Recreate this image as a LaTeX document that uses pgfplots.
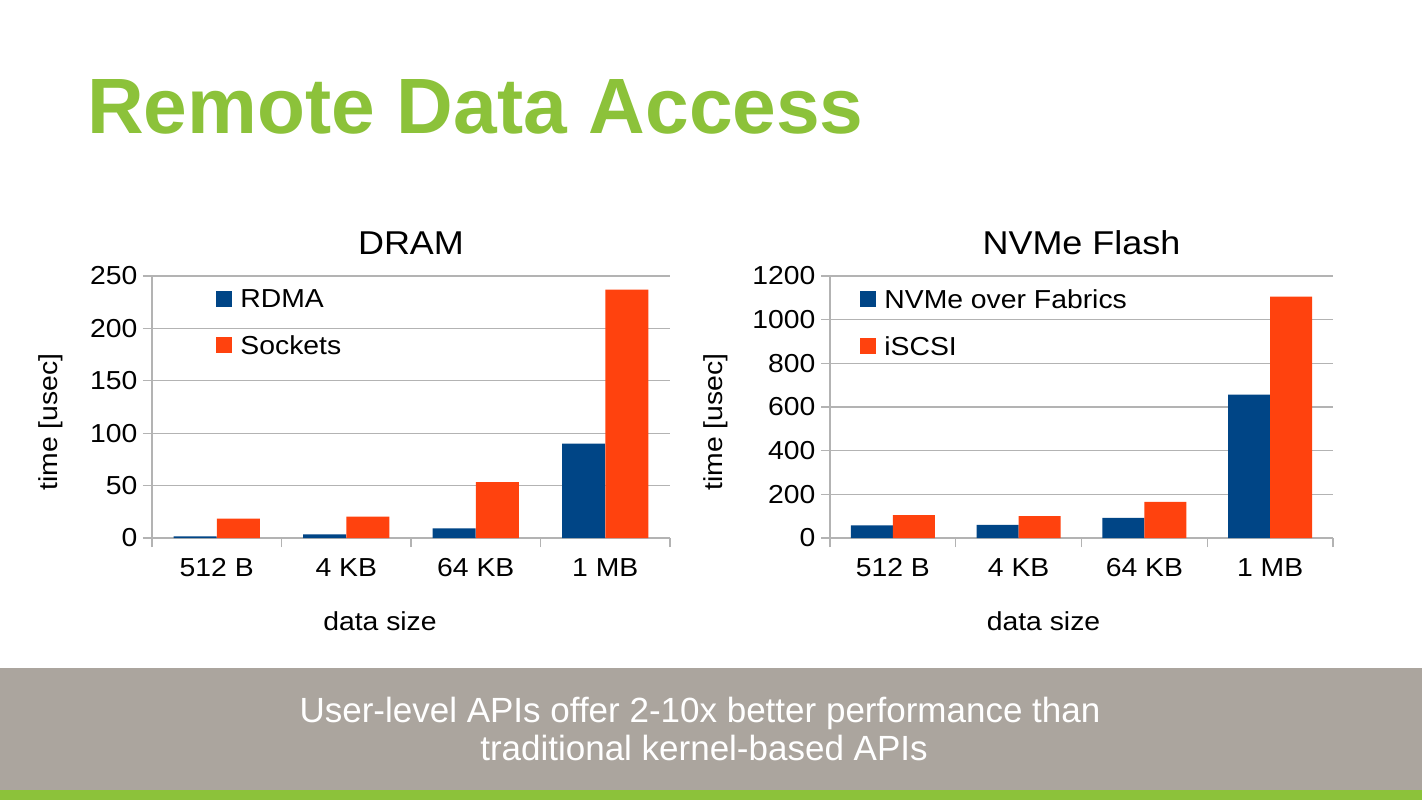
\documentclass[border=0pt]{standalone}
\usepackage{fontspec}
\setmainfont{Liberation Sans}
\newfontfamily\chartfont[FakeStretch=1.09]{Liberation Sans}
\usepackage{pgfplots}
\pgfplotsset{compat=1.18}

\definecolor{rdblue}{HTML}{004586}
\definecolor{rdorange}{HTML}{FF420E}
\definecolor{gridgray}{HTML}{B3B3B3}
\definecolor{titlegreen}{HTML}{8CC23A}
\definecolor{bannergray}{HTML}{ABA59E}

\newcommand{\px}[1]{\fontsize{#1}{#1}\selectfont}

% one style for both charts
\pgfplotsset{
  slidechart/.style={
    scale only axis,
    height=262pt,
    xmin=-0.5, xmax=3.5, ymin=0,
    xtick={0,1,2,3},
    xticklabels={512 B,4 KB,64 KB,1 MB},
    minor xtick={-0.5,0.5,1.5,2.5,3.5},
    major x tick style={draw=none},
    minor tick length=9pt,
    major tick length=9pt,
    tick align=outside,
    axis x line*=bottom,
    axis y line*=left,
    axis line style={gridgray, line width=1.2pt, -},
    tick style={gridgray, line width=1.2pt},
    ymajorgrids,
    grid style={gridgray, line width=1.2pt},
    tick label style={font=\chartfont\px{26}, black},
    /pgf/number format/assume math mode=true,
    /pgf/number format/1000 sep={},
    yticklabel style={xshift=-2pt},
    xticklabel style={yshift=-8pt},
    title style={font=\chartfont\px{33}, at={(0.5,1)}, anchor=base, yshift=16pt},
    xlabel style={font=\chartfont\px{26}, at={(0.5,0)}, anchor=base, yshift=-92pt},
    ylabel style={font=\chartfont\px{26}, at={(0,0.5)}, anchor=center},
    legend style={draw=none, fill=none, font=\chartfont\px{26}, anchor=north west,
      row sep=22pt, inner sep=0pt},
    legend cell align=left,
  },
  sq/.style={ybar, bar width=0.333, draw=none, fill=#1,
    legend image code/.code={\fill[##1] (0pt,-7pt) rectangle (16pt,9pt);
      \path (22pt,0pt);}},
}

\begin{document}
\begin{tikzpicture}
\fill[white] (0pt,0pt) rectangle (1422pt,-800pt);

% slide title
\node[anchor=base west, inner sep=0pt, text=titlegreen, font=\px{78.5}\bfseries]
  at (87pt,-133pt) {Remote Data Access};

% DRAM
\begin{axis}[slidechart,
    at={(152pt,-538pt)}, anchor=south west,
    width=518pt,
    ymax=250, ytick={0,50,...,250},
    title={DRAM},
    xlabel={data size}, xlabel style={xshift=-31pt},
    ylabel={time [usec]}, ylabel style={yshift=101pt, xshift=-15pt},
    legend style={at={(0.124,0.955)}},
  ]
  \addplot[sq=rdblue, bar shift=-0.1667] coordinates {(0,1.6) (1,3.5) (2,9.3) (3,90)};
  \addplot[sq=rdorange, bar shift=0.1667] coordinates {(0,18.5) (1,20.4) (2,53.3) (3,237)};
  \legend{RDMA,Sockets}
\end{axis}

% NVMe Flash
\begin{axis}[slidechart,
    at={(830pt,-538pt)}, anchor=south west,
    width=503pt,
    ymax=1200, ytick={0,200,...,1200},
    title={NVMe Flash},
    xlabel={data size}, xlabel style={xshift=-38pt},
    ylabel={time [usec]}, ylabel style={yshift=114pt, xshift=-15pt},
    legend style={at={(0.06,0.955)}},
  ]
  \addplot[sq=rdblue, bar shift=-0.1667] coordinates {(0,58) (1,60) (2,92) (3,657)};
  \addplot[sq=rdorange, bar shift=0.1667] coordinates {(0,105) (1,100) (2,166) (3,1105)};
  \legend{NVMe over Fabrics,iSCSI}
\end{axis}

% bottom banner
\fill[bannergray] (0pt,-668pt) rectangle (1422pt,-790pt);
\fill[titlegreen] (0pt,-790pt) rectangle (1422pt,-800pt);
\node[anchor=base, inner sep=0pt, text=white, font=\px{35}] at (700pt,-722pt)
  {User-level APIs offer 2-10x better performance than};
\node[anchor=base, inner sep=0pt, text=white, font=\px{35}] at (704pt,-760pt)
  {traditional kernel-based APIs};
\end{tikzpicture}
\end{document}
